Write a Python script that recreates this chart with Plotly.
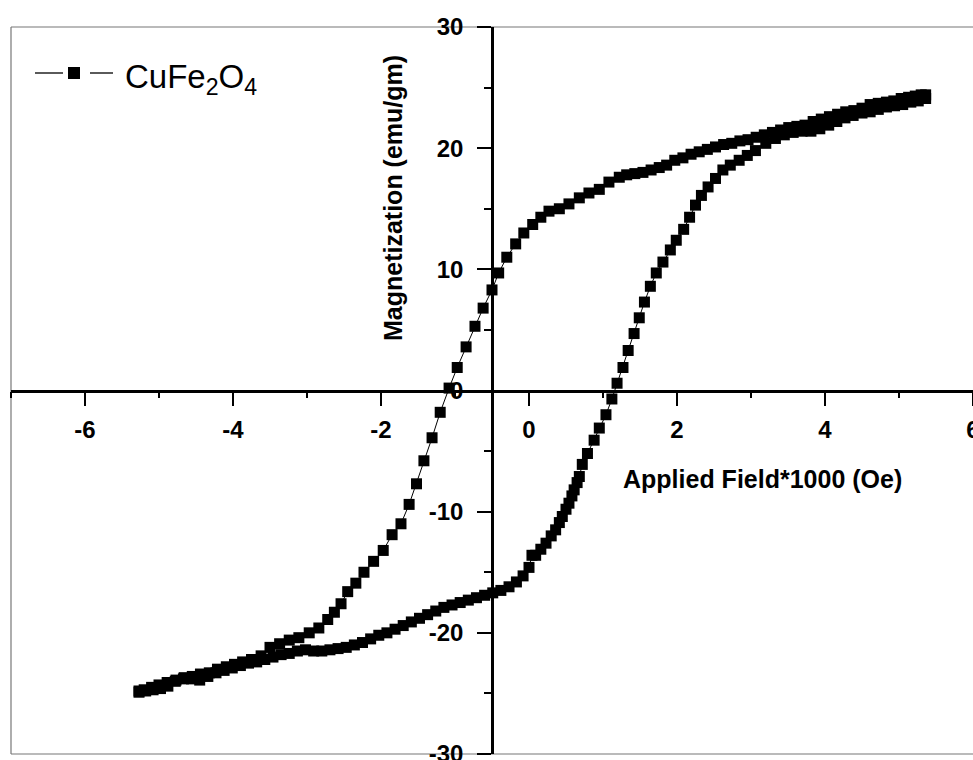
import plotly.graph_objects as go

# Descending branch (from +H_max to -H_max), field in kOe (x1000 Oe), magnetization in emu/g
down_field = [5.36, 5.30, 5.22, 5.13, 5.03, 4.93, 4.83, 4.72, 4.61, 4.50, 4.39, 4.28, 4.17, 4.06,
              3.95, 3.84, 3.73, 3.62, 3.51, 3.40, 3.29, 3.18, 3.07, 2.96, 2.85, 2.74, 2.63, 2.52,
              2.41, 2.30, 2.19, 2.08, 1.97, 1.86, 1.76, 1.65, 1.54, 1.43, 1.32, 1.22, 1.08, 0.95,
              0.81, 0.68, 0.54, 0.41, 0.27, 0.16, 0.05, -0.07, -0.18, -0.30, -0.41, -0.50, -0.62,
              -0.73, -0.85, -0.97, -1.08, -1.20, -1.31, -1.42, -1.52, -1.62, -1.73, -1.85, -1.97,
              -2.10, -2.23, -2.34, -2.45, -2.54, -2.63, -2.72, -2.84, -2.97, -3.11, -3.24, -3.37,
              -3.50, -3.62, -3.75, -3.87, -3.98, -4.09, -4.21, -4.32, -4.44, -4.55, -4.66, -4.77,
              -4.89, -5.00, -5.10, -5.20, -5.27]
down_mag = [24.4, 24.4, 24.3, 24.2, 24.1, 23.9, 23.8, 23.7, 23.6, 23.3, 23.1, 23.0, 22.8, 22.6,
            22.4, 22.2, 21.9, 21.8, 21.7, 21.5, 21.3, 21.1, 20.9, 20.7, 20.6, 20.4, 20.3, 20.1,
            19.9, 19.7, 19.5, 19.2, 19.0, 18.6, 18.4, 18.2, 18.0, 17.9, 17.8, 17.6, 17.2, 16.6,
            16.3, 15.9, 15.4, 15.0, 14.8, 14.3, 13.7, 13.0, 12.1, 11.0, 9.7, 8.3, 6.8,
            5.3, 3.6, 1.9, 0.2, -1.8, -3.9, -5.8, -7.7, -9.4, -11.0, -11.9, -13.2,
            -14.1, -15.0, -15.9, -16.6, -17.6, -18.3, -18.9, -19.6, -20.0, -20.4, -20.6, -20.9,
            -21.2, -21.9, -22.2, -22.4, -22.6, -22.8, -23.0, -23.3, -23.4, -23.6, -23.7, -23.9,
            -24.1, -24.3, -24.5, -24.7, -24.8]

# Ascending branch (from -H_max back to +H_max)
up_field = [-5.27, -5.18, -5.08, -4.98, -4.88, -4.78, -4.67, -4.56, -4.45, -4.34, -4.23, -4.12,
            -4.01, -3.90, -3.79, -3.68, -3.57, -3.46, -3.35, -3.24, -3.13, -3.02, -2.91, -2.80,
            -2.69, -2.58, -2.47, -2.36, -2.25, -2.14, -2.03, -1.92, -1.81, -1.70, -1.59, -1.48,
            -1.37, -1.26, -1.15, -1.04, -0.93, -0.82, -0.71, -0.60, -0.49, -0.38, -0.27, -0.17,
            -0.08, 0.00, 0.04, 0.09, 0.16, 0.23, 0.30, 0.36, 0.41, 0.45, 0.50, 0.54, 0.58, 0.61,
            0.65, 0.68, 0.72, 0.79, 0.88, 0.95, 1.04, 1.12, 1.19, 1.27, 1.34, 1.42, 1.49, 1.56,
            1.64, 1.72, 1.81, 1.91, 1.99, 2.09, 2.17, 2.25, 2.33, 2.42, 2.52, 2.62, 2.72, 2.84,
            2.95, 3.06, 3.20, 3.33, 3.45, 3.57, 3.69, 3.81, 3.93, 4.05, 4.16, 4.27, 4.38, 4.50,
            4.61, 4.72, 4.83, 4.94, 5.05, 5.16, 5.26, 5.36]
up_mag = [-24.9, -24.8, -24.7, -24.6, -24.4, -24.0, -23.8, -23.8, -23.9, -23.6, -23.3, -23.1,
          -22.9, -22.7, -22.5, -22.4, -22.2, -22.0, -21.8, -21.7, -21.5, -21.4, -21.5, -21.5,
          -21.4, -21.3, -21.2, -21.0, -20.8, -20.5, -20.2, -20.0, -19.7, -19.4, -19.1, -18.8,
          -18.5, -18.2, -17.9, -17.7, -17.5, -17.3, -17.1, -16.9, -16.7, -16.5, -16.2, -15.8,
          -15.3, -14.6, -13.6, -13.6, -13.1, -12.6, -12.0, -11.5, -10.9, -10.4, -9.8, -9.3, -8.7, -8.2,
          -7.6, -7.1, -6.1, -5.2, -4.1, -3.1, -2.0, -0.7, 0.6, 1.9, 3.3, 4.7, 6.0, 7.3,
          8.6, 9.7, 10.6, 11.6, 12.4, 13.3, 14.3, 15.3, 16.1, 16.8, 17.5, 18.2, 18.6, 19.0,
          19.4, 19.8, 20.4, 20.8, 21.1, 21.3, 21.4, 21.4, 21.6, 21.9, 22.2, 22.5, 22.7, 22.9,
          23.0, 23.2, 23.4, 23.5, 23.6, 23.8, 23.9, 24.1]

x_tick_vals = [-6, -4, -2, 0, 2, 4, 6]
x_tick_text = ["-6", "-4", "-2", "0", "2", "4", "6"]
y_tick_vals = [-30, -20, -10, 0, 10, 20, 30]
y_tick_text = ["-30", "-20", "-10", "0", "10", "20", "30"]

series_name = "CuFe<sub>2</sub>O<sub>4</sub>"
x_title = "Applied Field*1000 (Oe)"
y_title = "Magnetization (emu/gm)"

W, H = 973, 760
ML, MR, MT, MB = 11, 0, 27, 6
PW, PH = W - ML - MR, H - MT - MB


def px(xp):
    return (xp - ML) / PW


def py(yp):
    return 1 - (yp - MT) / PH


FONT = "Liberation Sans, Arial, sans-serif"

fig = go.Figure()
fig.add_trace(go.Scatter(
    x=down_field + up_field,
    y=down_mag + up_mag,
    mode="lines+markers",
    name=series_name,
    line=dict(color="black", width=1),
    marker=dict(symbol="square", size=11, color="black", line=dict(width=0)),
    showlegend=False,
))

axis_common = dict(
    showgrid=False, zeroline=False, showline=True, linecolor="black", linewidth=2.5,
    ticks="outside", ticklen=14, tickwidth=2, tickcolor="black",
    tickfont=dict(family=FONT, size=24, color="black", weight="bold"),
    anchor="free", position=0.5, ticklabeloverflow="allow", automargin=False,
)

fig.update_layout(
    width=W, height=H, autosize=False,
    margin=dict(l=ML, r=MR, t=MT, b=MB, pad=0, autoexpand=False),
    paper_bgcolor="white", plot_bgcolor="white",
    xaxis=dict(range=[-7, 6], tickmode="array", tickvals=x_tick_vals, ticktext=x_tick_text,
               minor=dict(dtick=1, tick0=0, ticklen=6, tickwidth=2, tickcolor="black", ticks="outside"),
               ticklabelstandoff=3, **axis_common),
    yaxis=dict(range=[-30, 30], tickmode="array", tickvals=y_tick_vals, ticktext=y_tick_text,
               minor=dict(dtick=5, tick0=0, ticklen=7, tickwidth=2, tickcolor="black", ticks="outside"),
               ticklabelstandoff=9, **axis_common),
    showlegend=False,
)

# thin frame (top, left, bottom)
frame = dict(type="line", xref="paper", yref="paper", line=dict(color="#777777", width=1.2), layer="below")
fig.add_shape(x0=0, x1=1, y0=1, y1=1, **frame)
fig.add_shape(x0=0, x1=0, y0=0, y1=1, **frame)
fig.add_shape(x0=0, x1=1, y0=0, y1=0, **frame)

# axis titles
fig.add_annotation(x=px(393), y=py(198), xref="paper", yref="paper", text=y_title, textangle=-90,
                   showarrow=False, xanchor="center", yanchor="middle",
                   font=dict(family=FONT, size=25, color="black", weight="bold"))
fig.add_annotation(x=px(762), y=py(479), xref="paper", yref="paper", text=x_title,
                   showarrow=False, xanchor="center", yanchor="middle",
                   font=dict(family=FONT, size=25, color="black", weight="bold"))

# legend (drawn like the original: line - square - line, then label)
ly = py(73)
leg_line = dict(type="line", xref="paper", yref="paper", line=dict(color="black", width=1.3))
fig.add_shape(x0=px(35), x1=px(63), y0=ly, y1=ly, **leg_line)
fig.add_shape(x0=px(90), x1=px(113), y0=ly, y1=ly, **leg_line)
fig.add_shape(type="rect", xref="paper", yref="paper", x0=px(68), x1=px(80), y0=py(67), y1=py(79),
              fillcolor="black", line=dict(width=0))
fig.add_annotation(x=px(123), y=py(79), xref="paper", yref="paper", text=series_name,
                   showarrow=False, xanchor="left", yanchor="middle",
                   font=dict(family=FONT, size=33, color="black"))

post = "document.body.style.margin='0';"

fig.write_html("out.html", config={"displayModeBar": False}, post_script=post)
